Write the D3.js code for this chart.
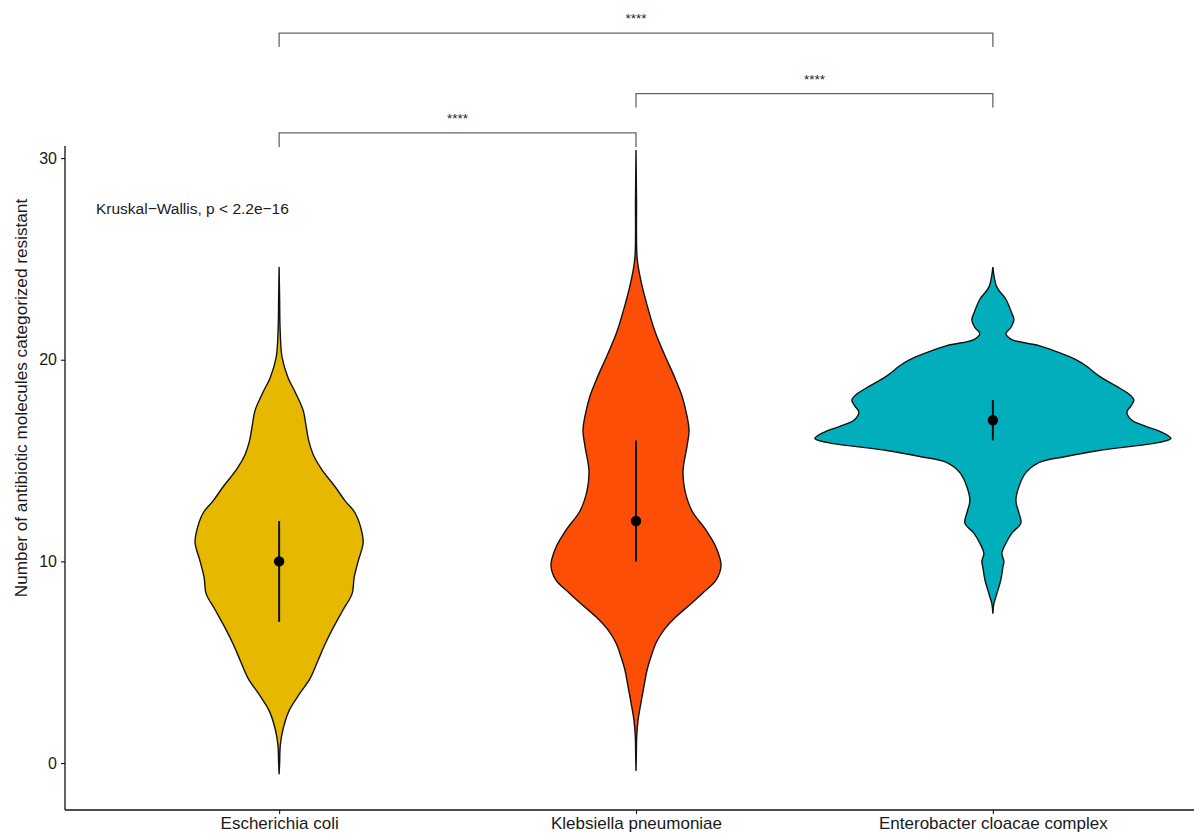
<!DOCTYPE html>
<html>
<head>
<meta charset="utf-8">
<script src="https://cdn.jsdelivr.net/npm/d3@7"></script>
<style>
  html, body { margin: 0; padding: 0; background: #fff; }
  svg { display: block; }
  text { font-family: "Liberation Sans", Arial, Helvetica, sans-serif; }
</style>
</head>
<body>
<svg id="chart" width="1194" height="835"></svg>
<script>
// ---- data ----
const categories = ["Escherichia coli", "Klebsiella pneumoniae", "Enterobacter cloacae complex"];
const colors = ["#E7B800", "#FC4E07", "#00AFBB"];
const yTicks = [0, 10, 20, 30];

// violin profiles: [value, relative density]
const ecoliProfile = [[24.6,0],[23,0.5],[21.5,1],[20.1,3],[19.1,9],[18.4,16],[17.5,24],[16.7,27],[16,29.5],[15.3,34],[14.6,42],[13.7,56],[13,66],[12.4,76],[11.4,83],[10.9,84],[10,79],[9.2,75],[8.4,73],[7.6,64],[6.7,54],[5.9,46],[5.1,39],[4.2,31],[3.4,20],[2.6,10],[1.7,4],[0.9,1.2],[0,0.5],[-0.55,0]];
const klebProfile = [[30.4,0],[28,0.5],[25,1.2],[23.9,5],[22.9,10],[21.4,19],[20.2,29],[19.2,38],[18.2,46],[17.2,51],[16.5,53],[15.7,51],[14.5,47],[13.5,49],[12.5,56],[11.55,70],[10.7,80],[9.8,85],[9.07,80],[8.4,66],[7.9,55],[7.25,40],[6.6,28],[5.95,20],[5.27,15],[4.6,11],[3.8,8],[3,5],[2.1,2],[1.3,0.7],[0.3,0.3],[-0.4,0]];
const enteroProfile = [[24.6,0],[23.6,4],[23,13],[22.3,19],[22,21],[21.6,18],[21.3,13],[21,19],[20.7,46],[20.3,69],[20,83],[19.7,93],[19.2,106],[18.7,123],[18.3,136],[18,141],[17.7,138],[17.4,134],[17,139],[16.7,153],[16.4,169],[16.1,178],[15.9,166],[15.5,106],[15.2,73],[14.9,46],[14.4,33],[13.7,26],[13,23],[12.4,26],[11.9,28],[11.4,19],[10.9,13],[10.4,9],[10,11],[9.7,10],[9.1,8],[8.4,4],[7.9,1],[7.4,0]];
const profiles = [ecoliProfile, klebProfile, enteroProfile];

const centers = [10, 12, 17];
const lower = [7, 10, 16];
const upper = [12, 16, 18];

const comparisons = [[0, 2], [1, 2], [0, 1]];
const compLevels = [36.2, 33.2, 31.25];
const compLabels = ["****", "****", "****"];
const testLabel = "Kruskal\u2212Wallis, p < 2.2e\u221216";
const yTitle = "Number of antibiotic molecules categorized resistant";

// ---- layout ----
const svg = d3.select("#chart");
const pLeft = 65, pRight = 1207, pTop = 146, pBottom = 810;

const x = d3.scalePoint().domain(categories).range([pLeft, pRight]).padding(0.6);
const y = d3.scaleLinear().domain([-2.33, 30.6]).range([pBottom, pTop]);
const w = d3.scaleLinear().domain([0, 178]).range([0, 178]);

svg.append("rect").attr("width", 1194).attr("height", 835).attr("fill", "#fff");

// violins
categories.forEach((c, i) => {
  const cx = x(c);
  const area = d3.area()
    .y(d => y(d[0]))
    .x0(d => cx - w(d[1]))
    .x1(d => cx + w(d[1]))
    .curve(d3.curveCatmullRom.alpha(0.5));
  svg.append("path")
    .datum(profiles[i])
    .attr("d", area)
    .attr("fill", colors[i])
    .attr("stroke", "#111")
    .attr("stroke-width", 1.4);
  svg.append("line")
    .attr("x1", cx).attr("x2", cx)
    .attr("y1", y(lower[i])).attr("y2", y(upper[i]))
    .attr("stroke", "#111").attr("stroke-width", 2);
  svg.append("circle")
    .attr("cx", cx).attr("cy", y(centers[i])).attr("r", 5.2)
    .attr("fill", "#000");
});

// axes
const yAxis = svg.append("g").attr("transform", `translate(${pLeft},0)`)
  .call(d3.axisLeft(y).tickValues(yTicks).tickSize(4).tickPadding(4));
const xAxis = svg.append("g").attr("transform", `translate(0,${pBottom})`)
  .call(d3.axisBottom(x).tickSize(4).tickPadding(5));
[yAxis, xAxis].forEach(g => {
  g.select(".domain").attr("stroke", "#111").attr("stroke-width", 1.3);
  g.selectAll(".tick line").attr("stroke", "#111").attr("stroke-width", 1.1);
  g.selectAll("text").attr("fill", "#1a1a1a").style("font-family", "Liberation Sans, Arial, sans-serif");
});
yAxis.select(".domain").attr("d", `M0,${pBottom}V${pTop}`);
xAxis.select(".domain").attr("d", `M${pLeft},0H${pRight}`);
yAxis.selectAll("text").style("font-size", "16px");
xAxis.selectAll("text").style("font-size", "17px").attr("y", 0).attr("dy", "19px");

// y title
svg.append("text")
  .attr("transform", "translate(27,398) rotate(-90)")
  .attr("text-anchor", "middle")
  .attr("fill", "#1a1a1a")
  .style("font-size", "17.2px")
  .text(yTitle);

// test label
svg.append("text")
  .attr("x", 96).attr("y", 214)
  .attr("fill", "#1a1a1a")
  .style("font-size", "15.5px")
  .text(testLabel);

// comparison brackets
comparisons.forEach((pair, k) => {
  const x1 = x(categories[pair[0]]), x2 = x(categories[pair[1]]);
  const yl = y(compLevels[k]);
  const tick = 14;
  svg.append("path")
    .attr("d", `M${x1},${yl + tick}V${yl}H${x2}V${yl + tick}`)
    .attr("fill", "none")
    .attr("stroke", "#666")
    .attr("stroke-width", 1.3);
  svg.append("text")
    .attr("x", (x1 + x2) / 2).attr("y", yl - 10)
    .attr("text-anchor", "middle")
    .attr("fill", "#222")
    .style("font-size", "13.5px")
    .text(compLabels[k]);
});
</script>
</body>
</html>
